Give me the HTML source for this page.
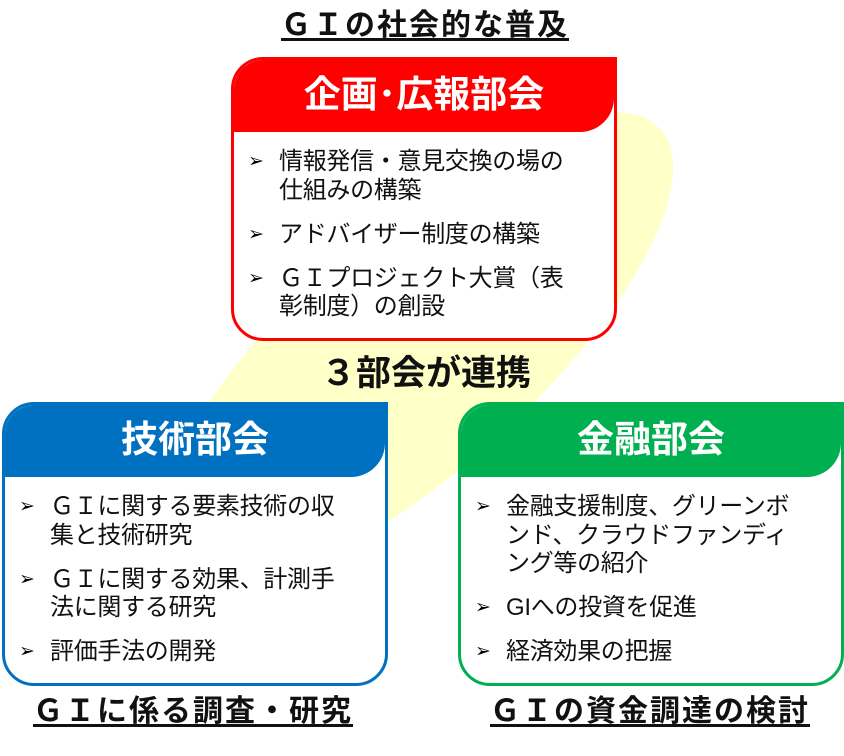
<!DOCTYPE html>
<html><head><meta charset="utf-8"><style>
body{margin:0;width:844px;height:756px;background:#fff;position:relative;overflow:hidden;font-family:"Liberation Sans","Noto Sans CJK JP",sans-serif;color:#111}
.t{position:absolute;font-weight:bold;text-decoration:underline;text-underline-offset:3px;white-space:nowrap;transform:translateX(-50%);font-size:30px;line-height:34px;letter-spacing:2px}
.box{position:absolute;width:380px;height:278px;border:3px solid;border-radius:32px;border-top-right-radius:0;background:#fff;overflow:hidden}
.hd{height:72px;border-bottom-right-radius:34px;color:#fff;font-weight:bold;font-size:37px;text-align:center;line-height:70px}
.bd{padding:16px 29px 0 14px;font-size:24px;line-height:28.5px;letter-spacing:-0.3px}
.it{position:relative;padding-left:31px;margin-bottom:15.5px}
.it:before{content:"➢";position:absolute;left:0;font-size:19px;color:#000}
</style></head><body>
<svg style="position:absolute;left:0;top:0" width="844" height="756"><ellipse cx="415" cy="350" rx="330" ry="120" fill="#ffffc8" transform="rotate(-42 415 350)"/></svg>
<div class="t" style="left:425px;top:9px">ＧＩの社会的な普及</div>
<div class="box" style="left:231px;top:57px;border-color:#f00"><div class="hd" style="background:#f00">企画･広報部会</div>
<div class="bd"><div class="it">情報発信・意見交換の場の仕組みの構築</div><div class="it">アドバイザー制度の構築</div><div class="it">ＧＩプロジェクト大賞（表彰制度）の創設</div></div></div>
<div style="position:absolute;left:426px;top:354px;transform:translateX(-50%);font-weight:bold;font-size:35px;line-height:40px;white-space:nowrap">３部会が連携</div>
<div class="box" style="left:2px;top:402px;border-color:#0070c0"><div class="hd" style="background:#0070c0">技術部会</div>
<div class="bd"><div class="it">ＧＩに関する要素技術の収集と技術研究</div><div class="it">ＧＩに関する効果、計測手法に関する研究</div><div class="it">評価手法の開発</div></div></div>
<div class="box" style="left:458px;top:402px;border-color:#00b050"><div class="hd" style="background:#00b050">金融部会</div>
<div class="bd" style="padding-right:34px"><div class="it">金融支援制度、グリーンボンド、クラウドファンディング等の紹介</div><div class="it">GIへの投資を促進</div><div class="it">経済効果の把握</div></div></div>
<div class="t" style="left:193px;top:695px">ＧＩに係る調査・研究</div>
<div class="t" style="left:650px;top:695px">ＧＩの資金調達の検討</div>
</body></html>
